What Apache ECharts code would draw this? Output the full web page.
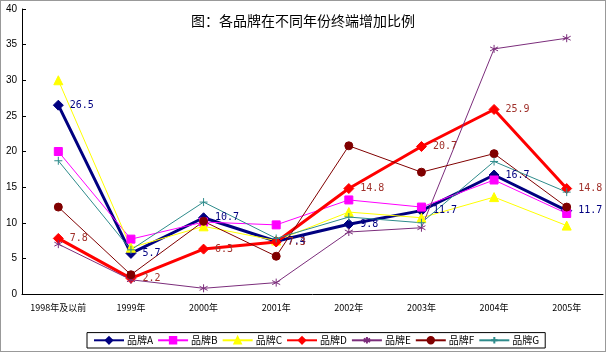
<!DOCTYPE html>
<html>
<head>
<meta charset="utf-8">
<style>
  html, body { margin: 0; padding: 0; background: #fff; }
  #chart { width: 604px; height: 350px; border: 1px solid #999; }
</style>
<script src="https://cdn.jsdelivr.net/npm/echarts@6/dist/echarts.min.js"></script>
</head>
<body>
<div id="chart"></div>
<script>
const categories = ['1998年及以前', '1999年', '2000年', '2001年', '2002年', '2003年', '2004年', '2005年']
const yTicks = [0, 5, 10, 15, 20, 25, 30, 35, 40]

const brandA = [26.5, 5.7, 10.7, 7.4, 9.8, 11.7, 16.7, 11.7]
const brandB = [20.0, 7.7, 10.1, 9.7, 13.2, 12.2, 16.0, 11.3]
const brandC = [30.0, 6.5, 9.5, 7.5, 11.5, 10.7, 13.6, 9.6]
const brandD = [7.8, 2.2, 6.3, 7.3, 14.8, 20.7, 25.9, 14.8]
const brandE = [7.0, 2.0, 0.8, 1.6, 8.7, 9.3, 34.4, 35.9]
const brandF = [12.2, 2.7, 10.2, 5.3, 20.8, 17.1, 19.7, 12.2]
const brandG = [18.7, 6.2, 12.9, 7.8, 10.8, 10.0, 18.6, 14.3]

const starPath = 'path://M0,-10L0,10M-8.7,-5L8.7,5M-8.7,5L8.7,-5'
const plusPath = 'path://M0,-10L0,10M-10,0L10,0'

const chart = echarts.init(document.getElementById('chart'))

function makeSeries(name, data, color, symbol, size, width, labelColor) {
  const s = {
    name,
    type: 'line',
    data,
    symbol,
    symbolSize: size,
    lineStyle: { color, width },
    itemStyle: { color, borderColor: color, borderWidth: 1 },
    emphasis: { disabled: true },
    animation: false
  }
  if (labelColor) {
    s.label = {
      show: true,
      position: 'right',
      distance: 6,
      color: labelColor,
      fontFamily: 'DejaVu Sans Mono',
      fontSize: 10,
      formatter: p => p.value.toFixed(1)
    }
  }
  return s
}

const seriesE = makeSeries('品牌E', brandE, '#7b2d7b', starPath, 8, 1)
seriesE.itemStyle = { color: 'none', borderColor: '#7b2d7b', borderWidth: 1 }
const seriesG = makeSeries('品牌G', brandG, '#2e8b8b', plusPath, 8, 1)
seriesG.itemStyle = { color: 'none', borderColor: '#2e8b8b', borderWidth: 1 }

chart.setOption({
  title: {
    text: '图：各品牌在不同年份终端增加比例',
    left: 'center',
    top: 8,
    textStyle: { fontSize: 14, fontWeight: 'normal', color: '#000', fontFamily: 'Noto Sans CJK SC' }
  },
  grid: { left: 21, right: 2, top: 8, bottom: 57 },
  legend: {
    bottom: 3,
    left: 86,
    itemGap: 4,
    itemWidth: 30,
    itemHeight: 8,
    padding: [2, 6],
    borderColor: '#000',
    borderWidth: 1,
    textStyle: { fontSize: 10, fontFamily: 'Noto Sans CJK SC', color: '#000', padding: [0, 0, 0, -2] },
    data: ['品牌A', '品牌B', '品牌C', '品牌D', '品牌E', '品牌F', '品牌G']
  },
  xAxis: {
    type: 'category',
    data: categories,
    boundaryGap: true,
    axisLine: { lineStyle: { color: '#000', width: 1 } },
    axisTick: { inside: true, length: 4, lineStyle: { color: '#000' } },
    axisLabel: { interval: 0, color: '#000', fontSize: 9, margin: 9, fontFamily: 'Noto Sans CJK SC' }
  },
  yAxis: {
    type: 'value',
    min: yTicks[0],
    max: yTicks[yTicks.length - 1],
    interval: 5,
    splitLine: { show: false },
    axisLine: { show: true, lineStyle: { color: '#000', width: 1 } },
    axisTick: { show: true, inside: true, length: 4, lineStyle: { color: '#000' } },
    axisLabel: { color: '#000', fontSize: 10, margin: 5 }
  },
  series: [
    makeSeries('品牌A', brandA, '#000080', 'diamond', 10, 3, '#000080'),
    makeSeries('品牌B', brandB, '#ff00ff', 'rect', 8, 1),
    makeSeries('品牌C', brandC, '#ffff00', 'triangle', 9, 1),
    makeSeries('品牌D', brandD, '#ff0000', 'diamond', 10, 3, '#a0302a'),
    seriesE,
    makeSeries('品牌F', brandF, '#800000', 'circle', 8, 1),
    seriesG
  ]
})
</script>
</body>
</html>
